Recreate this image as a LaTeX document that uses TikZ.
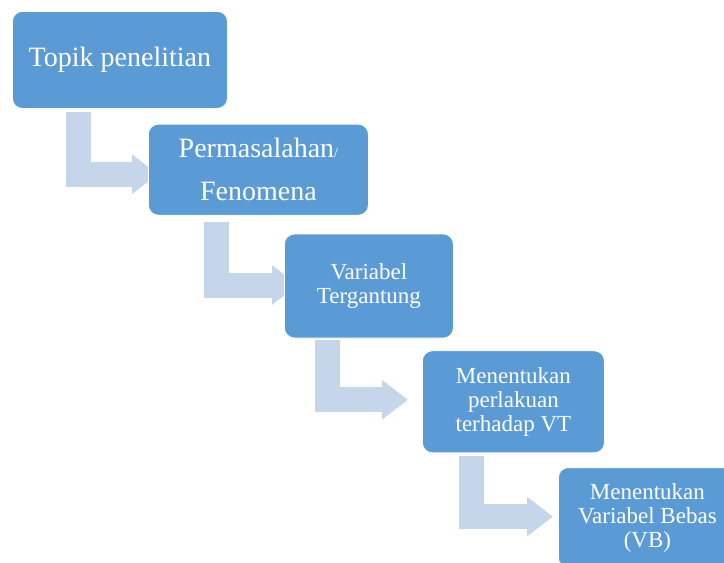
\documentclass[tikz,border=0pt]{standalone}
\usepackage{fontspec}
\setmainfont{Liberation Serif}
\usetikzlibrary{arrows.meta, positioning, backgrounds}
\definecolor{boxblue}{RGB}{91,155,213}
\definecolor{flowblue}{RGB}{197,213,234}

\begin{document}
\begin{tikzpicture}[x=1pt, y=1pt, box/.style={fill=boxblue, draw=white, line width=0.8pt, rounded corners=10pt, text=white, align=center, inner sep=0pt, anchor=north west}, flow/.style={draw=flowblue, line width=25pt, -{Triangle[width=38pt, length=26pt]}}, bigtext/.style={font=\fontsize{28}{43}\selectfont}, smalltext/.style={font=\fontsize{23}{24}\selectfont}]
\clip (0,0) rectangle (724,-563);
\node[box, bigtext, minimum width=215pt, minimum height=97pt] (topik) at (12,-11) {Topik penelitian};
\node[box, bigtext, minimum width=220pt, minimum height=91pt] (masalah) at ([xshift=136pt, yshift=-15pt] topik.south west) {Permasalahan{\fontsize{14}{14}\selectfont/}\\Fenomena};
\node[box, smalltext, minimum width=169pt, minimum height=104pt] (vt) at ([xshift=136pt, yshift=-18pt] masalah.south west) {Variabel\\Tergantung};
\node[box, smalltext, minimum width=182pt, minimum height=102pt] (perlakuan) at ([xshift=138pt, yshift=-12pt] vt.south west) {Menentukan\\perlakuan\\terhadap VT};
\node[box, smalltext, minimum width=178pt, minimum height=100pt] (vb) at ([xshift=136pt, yshift=-14pt] perlakuan.south west) {Menentukan\\Variabel Bebas\\(VB)};

\begin{pgfonlayer}{background}
\draw[flow] ([xshift=66pt, yshift=-3pt] topik.south west) |- ([xshift=10pt, yshift=-4.5pt] masalah.west);
\draw[flow] ([xshift=68pt, yshift=-6pt] masalah.south west) |- ([xshift=14pt, yshift=1pt] vt.west);
\draw[flow] ([xshift=43.5pt, yshift=-2pt] vt.south west) |- ([xshift=-14pt, yshift=2pt] perlakuan.west);
\draw[flow] ([xshift=49.5pt, yshift=-3pt] perlakuan.south west) |- ([xshift=-5pt, yshift=1pt] vb.west);
\end{pgfonlayer}
\end{tikzpicture}
\end{document}
